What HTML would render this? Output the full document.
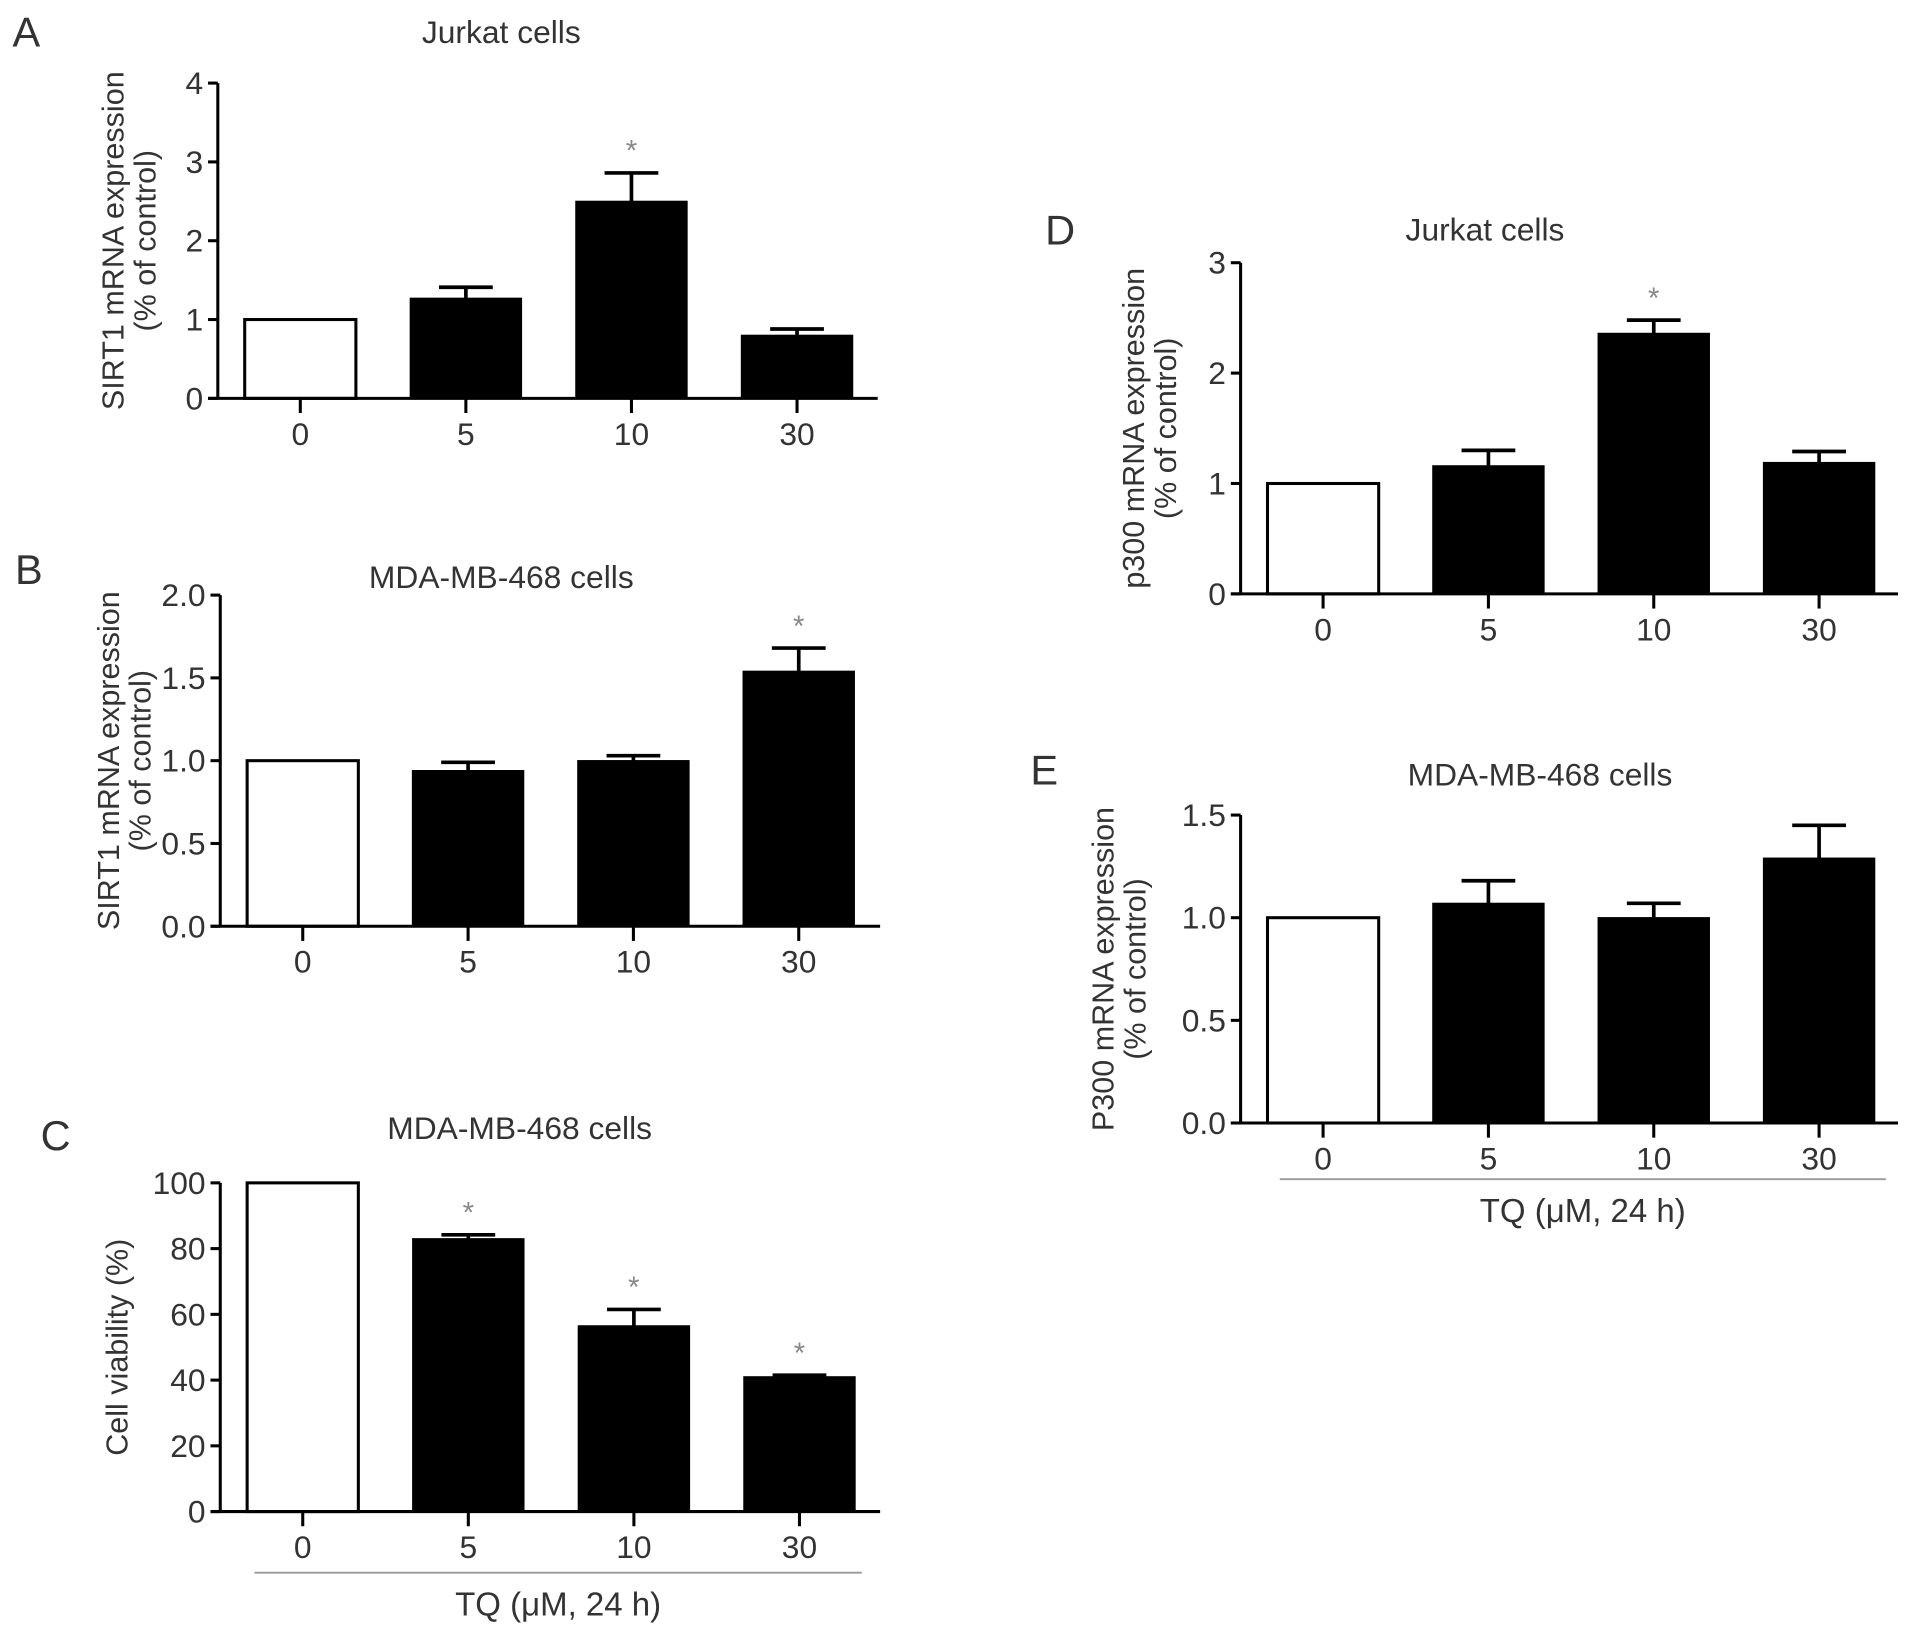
<!DOCTYPE html>
<html><head><meta charset="utf-8"><title>TQ figure</title>
<style>
html,body{margin:0;padding:0;background:#fff;}
svg{display:block;}
.t{font-family:"Liberation Sans Narrow","Liberation Sans",sans-serif;fill:#333;}
.yl{font-family:"Liberation Sans",sans-serif;fill:#333;font-size:25px;}
</style></head>
<body>
<svg id="fig" width="1913" height="1635" viewBox="0 0 1565 1338" xmlns="http://www.w3.org/2000/svg"></svg>
<script>
// ---- data ----
const categories = ["0","5","10","30"];
const aValues = [1.0, 1.27, 2.5, 0.8];
const aErrors = [0, 0.14, 0.36, 0.08];
const aTicks = ["0","1","2","3","4"];
const aStars = [false,false,true,false];
const bValues = [1.0, 0.94, 1.0, 1.54];
const bErrors = [0, 0.05, 0.03, 0.14];
const bTicks = ["0.0","0.5","1.0","1.5","2.0"];
const bStars = [false,false,false,true];
const cValues = [100, 83, 56.5, 41];
const cErrors = [0, 1.2, 5, 0.5];
const cTicks = ["0","20","40","60","80","100"];
const cStars = [false,true,true,true];
const dValues = [1.0, 1.16, 2.36, 1.19];
const dErrors = [0, 0.14, 0.12, 0.1];
const dTicks = ["0","1","2","3"];
const dStars = [false,false,true,false];
const eValues = [1.0, 1.07, 1.0, 1.29];
const eErrors = [0, 0.11, 0.07, 0.16];
const eTicks = ["0.0","0.5","1.0","1.5"];
const eStars = [false,false,false,false];

const NS="http://www.w3.org/2000/svg";
const svg=document.getElementById('fig');
function mk(tag,attrs,parent,text){const e=document.createElementNS(NS,tag);for(const k in attrs)e.setAttribute(k,attrs[k]);if(text!==undefined)e.textContent=text;(parent||svg).appendChild(e);return e;}

function panel(p){
  const g=mk('g',{});
  
  
  const ymax=parseFloat(p.ticks[p.ticks.length-1]);
  const y=v=>p.y0-(v/ymax)*(p.y0-p.ytop);
  const xc=i=>p.bx0+p.step*i+p.bw/2;
  let L=mk('text',{x:p.lx,y:p.ly,class:'t','font-size':34},g,p.id);
  
  
  let T=mk('text',{x:p.tx,y:p.ty,class:'t','font-size':26,'text-anchor':'middle'},g,p.title);
  
  
  const yl=mk('text',{class:'yl','text-anchor':'middle',transform:`translate(${p.ylx},${(p.y0+p.ytop)/2}) rotate(-90)`},g);
  
  
  p.ylabel.forEach((s,i)=>{mk('tspan',{x:0,dy:i?26:0},yl,s);});
  p.values.forEach((v,i)=>{
    const x=p.bx0+p.step*i, top=y(v);
    if(p.errors[i]>0){
      const et=y(v+p.errors[i]);
      const el=mk('path',{d:`M${xc(i)} ${top} V${et} M${xc(i)-22} ${et} H${xc(i)+22}`,stroke:'#000','stroke-width':3,fill:'none'},g);
      
      
    }
    const r=mk('rect',{x:x,y:top,width:p.bw,height:p.y0-top,fill:i===0?'#fff':'#000',stroke:'#000','stroke-width':i===0?2.5:1},g);
    
    
    if(p.stars[i]){
      const s=mk('text',{x:xc(i),y:y(v+p.errors[i])-10,class:'t','font-size':24,'text-anchor':'middle',style:'fill:#888'},g,'*');
      
      
    }
    const tl=mk('text',{x:xc(i),y:p.y0+38,class:'t','font-size':26,'text-anchor':'middle'},g,categories[i]);
    
    
    mk('line',{x1:xc(i),x2:xc(i),y1:p.y0,y2:p.y0+12,stroke:'#000','stroke-width':2.5},g);
  });
  const ya=mk('line',{x1:p.ax,x2:p.ax,y1:p.ytop,y2:p.y0,stroke:'#000','stroke-width':2.5},g);
  
  
  const xa=mk('line',{x1:p.ax-8,x2:p.xend,y1:p.y0,y2:p.y0,stroke:'#000','stroke-width':2.5},g);
  
  
  p.ticks.forEach(t=>{
    const v=parseFloat(t),yy=y(v);
    mk('line',{x1:p.ax-8,x2:p.ax,y1:yy,y2:yy,stroke:'#000','stroke-width':2.5},g);
    const tt=mk('text',{x:p.ax-12,y:yy+9,class:'t','font-size':26,'text-anchor':'end'},g,t);
    
    
  });
  if(p.tq){
    mk('line',{x1:p.tq[0],x2:p.tq[1],y1:p.tq[2],y2:p.tq[2],stroke:'#999','stroke-width':1.5},g);
    const q=mk('text',{x:(p.tq[0]+p.tq[1])/2,y:p.tq[2]+35,class:'t','font-size':27,'text-anchor':'middle'},g,'TQ (\u03bcM, 24 h)');
    
    
  }
}
const sirt=["SIRT1 mRNA expression","(% of control)"];
panel({id:'A',title:'Jurkat cells',lx:10,ly:38,tx:410,ty:35,ylabel:sirt,ylx:101,ax:178,ytop:68,y0:326,xend:718,bx0:200,step:135.5,bw:91,values:aValues,errors:aErrors,ticks:aTicks,stars:aStars});
panel({id:'B',title:'MDA-MB-468 cells',lx:12,ly:478,tx:410,ty:481,ylabel:sirt,ylx:97,ax:180,ytop:487,y0:758,xend:720,bx0:202,step:135.3,bw:91,values:bValues,errors:bErrors,ticks:bTicks,stars:bStars});
panel({id:'C',title:'MDA-MB-468 cells',lx:33,ly:941,tx:425,ty:932,ylabel:['Cell viability (%)'],ylx:104,ax:180,ytop:968,y0:1237,xend:720,bx0:202,step:135.5,bw:91,values:cValues,errors:cErrors,ticks:cTicks,stars:cStars,tq:[208,705,1287]});
panel({id:'D',title:'Jurkat cells',lx:855,ly:200,tx:1215,ty:197,ylabel:["p300 mRNA expression","(% of control)"],ylx:936,ax:1015,ytop:215,y0:486,xend:1553,bx0:1037,step:135.3,bw:91,values:dValues,errors:dErrors,ticks:dTicks,stars:dStars});
panel({id:'E',title:'MDA-MB-468 cells',lx:843,ly:642,tx:1260,ty:643,ylabel:["P300 mRNA expression","(% of control)"],ylx:911,ax:1015,ytop:667,y0:919,xend:1553,bx0:1037,step:135.3,bw:91,values:eValues,errors:eErrors,ticks:eTicks,stars:eStars,tq:[1047,1543,965]});
</script>
</body></html>
